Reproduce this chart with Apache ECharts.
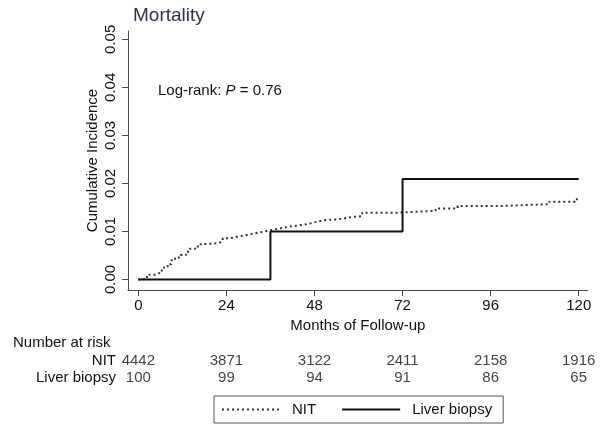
<!DOCTYPE html>
<html>
<head>
<meta charset="utf-8">
<script src="https://cdn.jsdelivr.net/npm/echarts@6/dist/echarts.min.js"></script>
<style>html,body{margin:0;padding:0;background:#fff}#c{width:608px;height:427px}</style>
</head>
<body>
<div id="c"></div>
<script>
const xTicks = [0, 24, 48, 72, 96, 120];
const yTicks = [0, 0.01, 0.02, 0.03, 0.04, 0.05];
const nitCurve = [[0,0],[1.5,0.0005],[3,0.001],[4.5,0.0014],[6,0.0019],[7,0.0025],[8,0.0032],[9,0.0040],[10,0.0046],[11.5,0.0051],[13,0.0058],[14,0.0064],[15.5,0.0069],[17,0.0074],[19,0.0076],[22,0.008],[23,0.0086],[25,0.0089],[27,0.0092],[29,0.0095],[31,0.0098],[33,0.0101],[35,0.0104],[37,0.0107],[39,0.011],[41,0.0112],[43,0.0114],[45,0.0117],[47,0.0121],[49,0.0124],[51,0.0125],[54,0.0127],[56,0.013],[58,0.0132],[61,0.0139],[70,0.0143],[81,0.0148],[87,0.0153],[99,0.0157],[112,0.0162],[119,0.0167],[120,0.0167]];
const biopsyCurve = [[0,0],[36,0.01],[72,0.0209],[120,0.0209]];
const riskGroups = ['NIT', 'Liver biopsy'];
const riskNIT = [4442, 3871, 3122, 2411, 2158, 1916];
const riskBiopsy = [100, 99, 94, 91, 86, 65];

const riskData = [];
xTicks.forEach((t, i) => {
  riskData.push([t, 'NIT', riskNIT[i]]);
  riskData.push([t, 'Liver biopsy', riskBiopsy[i]]);
});

const FONT = '"Liberation Sans", Arial, Helvetica, sans-serif';
const axisCol = '#4a4a4a';
const chart = echarts.init(document.getElementById('c'));
chart.setOption({
  animation: false,
  backgroundColor: '#fff',
  textStyle: { fontFamily: FONT },
  title: {
    text: 'Mortality', left: 128, top: 1,
    textStyle: { fontFamily: FONT, fontSize: 19, fontWeight: 'normal', color: '#2b3550' }
  },
  grid: [
    { left: 128, right: 20.3, top: 31, bottom: 137 },
    { left: 128, right: 20.3, top: 352, height: 34.6 }
  ],
  xAxis: [
    {
      type: 'value', gridIndex: 0, min: -2.81, max: 122.45,
      name: 'Months of Follow-up', nameLocation: 'middle', nameGap: 25,
      nameTextStyle: { fontFamily: FONT, fontSize: 15, color: '#111' },
      axisLine: { show: true, onZero: false, lineStyle: { color: axisCol, width: 1 } },
      axisTick: { show: true, length: 6, customValues: xTicks, lineStyle: { color: axisCol } },
      axisLabel: { customValues: xTicks, margin: 8, fontSize: 15, color: '#111', fontFamily: FONT },
      splitLine: { show: false }
    },
    {
      type: 'value', gridIndex: 1, min: -2.81, max: 122.45, show: false
    }
  ],
  yAxis: [
    {
      type: 'value', gridIndex: 0, min: -0.00218, max: 0.05173,
      name: 'Cumulative Incidence', nameLocation: 'middle', nameGap: 28, nameMoveOverlap: false,
      nameTextStyle: { fontFamily: FONT, fontSize: 15, color: '#111' },
      axisLine: { show: true, onZero: false, lineStyle: { color: axisCol, width: 1 } },
      axisTick: { show: true, length: 6, customValues: yTicks, lineStyle: { color: axisCol } },
      axisLabel: { customValues: yTicks, rotate: 90, margin: 10, fontSize: 15, color: '#111', fontFamily: FONT,
        formatter: v => v.toFixed(2) },
      splitLine: { show: false }
    },
    {
      type: 'category', gridIndex: 1, data: riskGroups, inverse: true,
      axisLine: { show: false }, axisTick: { show: false },
      axisLabel: { interval: 0, margin: 12, fontSize: 15, color: '#111', fontFamily: FONT },
      splitLine: { show: false }
    }
  ],
  legend: {
    left: 214, top: 396,
    orient: 'horizontal',
    borderColor: '#555', borderWidth: 1, borderRadius: 0,
    padding: [5, 11, 5, 7],
    itemWidth: 58, itemHeight: 14, itemGap: 25,
    itemStyle: { opacity: 0 },
    textStyle: { fontFamily: FONT, fontSize: 15, color: '#111', lineHeight: 17, padding: [0, 0, 0, 7] },
    data: ['NIT', 'Liver biopsy']
  },
  graphic: [
    { type: 'text', left: 158, top: 83,
      style: { text: '{a|Log-rank: }{b|P}{a| = 0.76}', rich: {
        a: { fontFamily: FONT, fontSize: 15, fill: '#111' },
        b: { fontFamily: FONT, fontSize: 15, fill: '#111', fontStyle: 'italic' } } } },
    { type: 'text', left: 13, top: 335,
      style: { text: 'Number at risk', fontFamily: FONT, fontSize: 15, fill: '#111' } }
  ],
  series: [
    {
      name: 'NIT', type: 'line', xAxisIndex: 0, yAxisIndex: 0, step: 'end',
      data: nitCurve, symbol: 'none', showSymbol: false,
      lineStyle: { color: '#333', width: 2, type: [2, 3] },
      itemStyle: { color: '#333', opacity: 0 }
    },
    {
      name: 'Liver biopsy', type: 'line', xAxisIndex: 0, yAxisIndex: 0, step: 'end',
      data: biopsyCurve, symbol: 'none', showSymbol: false,
      lineStyle: { color: '#111', width: 2, type: 'solid' },
      itemStyle: { color: '#111', opacity: 0 }
    },
    {
      type: 'scatter', xAxisIndex: 1, yAxisIndex: 1, symbolSize: 0,
      data: riskData, silent: true,
      label: { show: true, position: 'inside', fontFamily: FONT, fontSize: 15, color: '#111',
        formatter: p => String(p.value[2]) }
    }
  ]
});
</script>
</body>
</html>
